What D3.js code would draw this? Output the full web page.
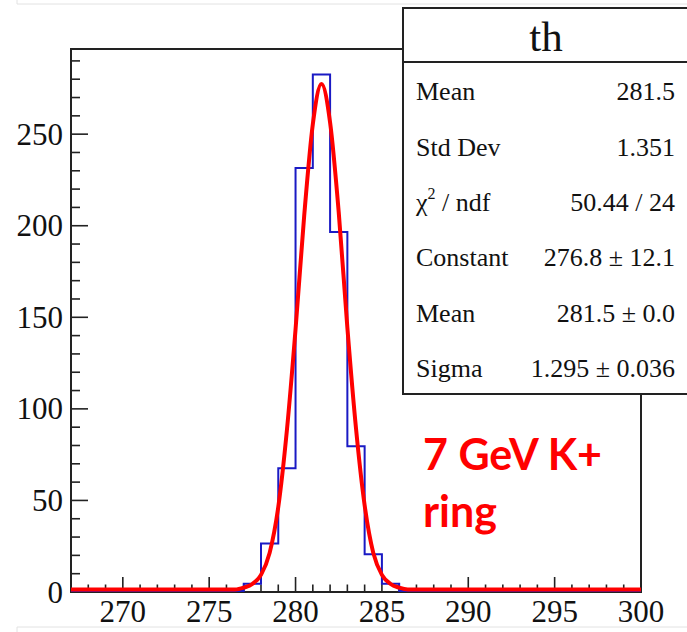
<!DOCTYPE html>
<html>
<head>
<meta charset="utf-8">
<script src="https://cdn.jsdelivr.net/npm/d3@7"></script>
<style>
  body { margin: 0; background: #fff; }
  svg { display: block; }
</style>
</head>
<body>
<svg id="chart" width="687" height="632"></svg>
<script>
// histogram "th": bins of width 1 from 267 to 300
const binLow = d3.range(267, 300);
const counts = [0, 0, 0, 0, 0, 0, 0, 0, 0, 0, 4, 26, 67, 231, 282, 196, 79, 20, 4, 0, 0, 0, 0, 0, 0, 0, 0, 0, 0, 0, 0, 0, 0];

// gaussian fit curve
const fitX = [267, 276.5, 277, 277.5, 278, 278.5, 279, 279.5, 280, 280.5, 281, 281.5, 282, 282.5, 283, 283.5, 284, 284.5, 285, 285.5, 286, 286.5, 300];
const fitY = [0, 0, 1, 3, 8, 20, 45, 87, 142, 204, 254, 276, 255, 206, 143, 88, 46, 20, 8, 3, 1, 0, 0];

const xMajorTicks = [270, 275, 280, 285, 290, 295, 300];
const yMajorTicks = [0, 50, 100, 150, 200, 250];

const statsTitle = "th";
const statLabels = ["Mean", "Std Dev", "chi2", "Constant", "Mean", "Sigma"];
const statValues = ["281.5", "1.351", "50.44 / 24", "276.8 \u00b1 12.1", "281.5 \u00b1 0.0", "1.295 \u00b1 0.036"];

const note = ["7 GeV K+", "ring"];

function drawChart() {
    const svg = d3.select("#chart");
    const serif = "'Liberation Serif', 'Times New Roman', serif";
    const frameColor = "#222";

    // faint slide borders
    svg.append("path")
        .attr("d", "M17,0V4H687M17,632V627H687")
        .attr("fill", "none").attr("stroke", "#e2e2e2").attr("stroke-width", 1);

    const x = d3.scaleLinear().domain([267, 300]).range([71, 641]);
    const y = d3.scaleLinear().domain([0, 296.5]).range([592, 49]);

    // frame
    svg.append("rect")
        .attr("x", x(267)).attr("y", y(296.5))
        .attr("width", x(300) - x(267)).attr("height", y(0) - y(296.5))
        .attr("fill", "none").attr("stroke", frameColor).attr("stroke-width", 2);

    // x ticks (drawn upward, inside the frame)
    const xg = svg.append("g");
    xg.selectAll(".xminor").data(d3.range(268, 300)).enter().append("line")
        .attr("x1", d => x(d)).attr("x2", d => x(d))
        .attr("y1", y(0)).attr("y2", d => y(0) - (d % 5 === 0 ? 15 : 7.5))
        .attr("stroke", frameColor).attr("stroke-width", 1.6);
    xg.selectAll(".xlab").data(xMajorTicks).enter().append("text")
        .attr("x", d => x(d)).attr("y", 622)
        .attr("text-anchor", "middle")
        .attr("font-family", serif).attr("font-size", 31)
        .attr("fill", "#111")
        .text(d => d);

    // y ticks
    const yg = svg.append("g");
    yg.selectAll(".yminor").data(d3.range(10, 300, 10)).enter().append("line")
        .attr("x1", x(267)).attr("x2", d => x(267) + (d % 50 === 0 ? 17 : 9))
        .attr("y1", d => y(d)).attr("y2", d => y(d))
        .attr("stroke", frameColor).attr("stroke-width", 1.6);
    yg.selectAll(".ylab").data(yMajorTicks).enter().append("text")
        .attr("x", 63).attr("y", d => y(d))
        .attr("dy", "0.34em")
        .attr("text-anchor", "end")
        .attr("font-family", serif).attr("font-size", 31)
        .attr("fill", "#111")
        .text(d => d);

    // histogram outline
    const steps = binLow.map((b, i) => ({ x: b, y: counts[i] }));
    steps.push({ x: 300, y: counts[counts.length - 1] });
    const step = d3.line().curve(d3.curveStepAfter).x(d => x(d.x)).y(d => y(d.y) - 1);
    svg.append("path")
        .datum(steps)
        .attr("fill", "none")
        .attr("stroke", "#1a1ac4")
        .attr("stroke-width", 2)
        .attr("d", step);

    // fit
    const fit = fitX.map((v, i) => ({ x: v, y: fitY[i] }));
    const fitLine = d3.line().curve(d3.curveMonotoneX).x(d => x(d.x)).y(d => y(d.y) - 2.5);
    svg.append("path")
        .datum(fit)
        .attr("fill", "none")
        .attr("stroke", "#ff0000")
        .attr("stroke-width", 4)
        .attr("stroke-linejoin", "round")
        .attr("d", fitLine);

    // stats box
    const box = { left: 403, top: 8, div: 62, bottom: 394 };
    const sb = svg.append("g");
    sb.append("rect")
        .attr("x", box.left).attr("y", box.top)
        .attr("width", 700 - box.left).attr("height", box.bottom - box.top)
        .attr("fill", "#fff").attr("stroke", frameColor).attr("stroke-width", 2);
    sb.append("line")
        .attr("x1", box.left).attr("x2", 700)
        .attr("y1", box.div).attr("y2", box.div)
        .attr("stroke", frameColor).attr("stroke-width", 2);
    sb.append("text")
        .attr("x", 546).attr("y", 51)
        .attr("text-anchor", "middle")
        .attr("font-family", serif).attr("font-size", 43)
        .attr("fill", "#111")
        .text(statsTitle);

    const rowY = d3.scaleLinear().domain([0, 5]).range([91, 368]);
    statLabels.forEach((lab, i) => {
        const t = sb.append("text")
            .attr("x", 416).attr("y", rowY(i))
            .attr("dy", "0.35em")
            .attr("font-family", serif).attr("font-size", 26)
            .attr("fill", "#111");
        if (lab === "chi2") {
            t.append("tspan").text("\u03c7");
            t.append("tspan").attr("font-size", 16).attr("dy", "-0.75em").text("2");
            t.append("tspan").attr("dy", "0.48em").text(" / ndf");
        } else {
            t.text(lab);
        }
        sb.append("text")
            .attr("x", 675).attr("y", rowY(i))
            .attr("dy", "0.35em")
            .attr("text-anchor", "end")
            .attr("font-family", serif).attr("font-size", 26)
            .attr("fill", "#111")
            .text(statValues[i]);
    });

    // red annotation
    svg.selectAll(".note").data(note).enter().append("text")
        .attr("x", 423).attr("y", (d, i) => 470 + i * 57)
        .attr("font-family", "Lato, 'Open Sans', sans-serif")
        .attr("font-weight", 700).attr("font-size", 43)
        .attr("fill", "#ff0000")
        .text(d => d);
}

drawChart();
</script>
</body>
</html>
